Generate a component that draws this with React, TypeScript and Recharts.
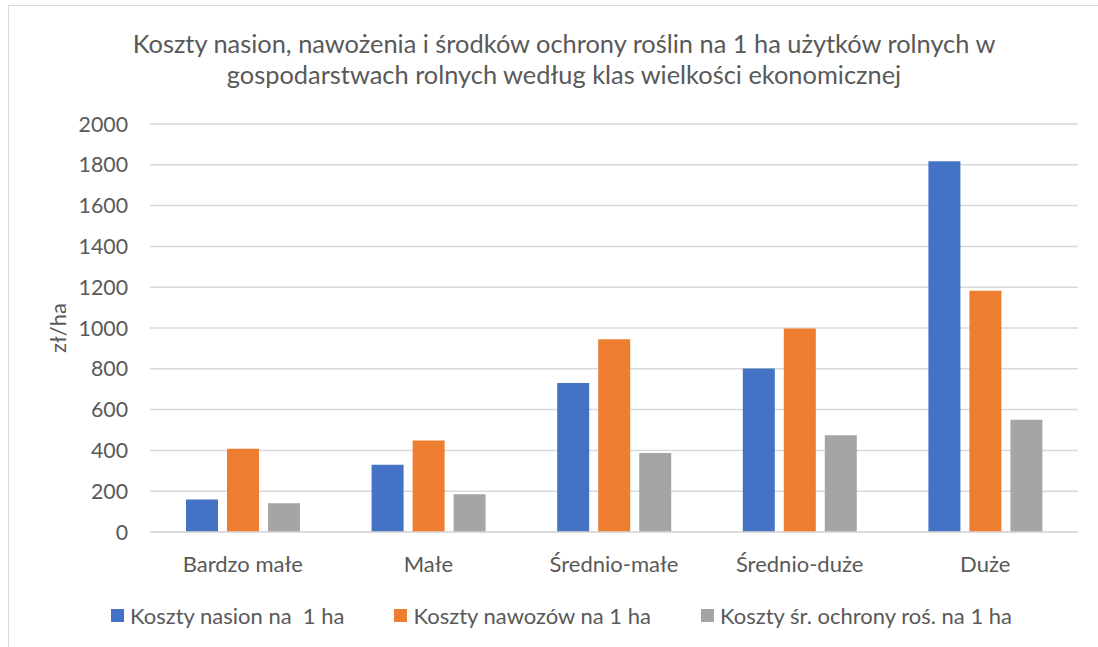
import {
  BarChart,
  Bar,
  XAxis,
  YAxis,
  CartesianGrid,
  Legend,
} from "recharts";

const categories = ["Bardzo małe", "Małe", "Średnio-małe", "Średnio-duże", "Duże"];
const seeds = [159, 330, 730, 802, 1817];
const fertilizers = [408, 448, 945, 998, 1183];
const protection = [141, 185, 387, 474, 550];
const yTicks = [0, 200, 400, 600, 800, 1000, 1200, 1400, 1600, 1800, 2000];

const series = [
  { key: "seeds", name: "Koszty nasion na  1 ha", color: "#4472C4", values: seeds },
  { key: "fert", name: "Koszty nawozów na 1 ha", color: "#ED7D31", values: fertilizers },
  { key: "prot", name: "Koszty śr. ochrony roś. na 1 ha", color: "#A5A5A5", values: protection },
];

const data = categories.map((c, i) => ({
  category: c,
  seeds: seeds[i],
  fert: fertilizers[i],
  prot: protection[i],
}));

const FONT = "Lato, 'Open Sans', sans-serif";
const TEXT = "#595959";
const LEGEND_H = 30;

// legend row: small square + label, spaced like the office chart
function LegendRow({ payload }: any) {
  return (
    <div
      style={{
        display: "flex",
        alignItems: "center",
        height: LEGEND_H,
        paddingLeft: 111,
        fontFamily: FONT,
      }}
    >
      {(payload || []).map((p: any, i: number) => (
        <div key={i} style={{ display: "flex", alignItems: "center", marginRight: 50 }}>
          <span
            style={{
              width: 13,
              height: 13,
              background: p.color,
              display: "inline-block",
              marginRight: 6,
            }}
          />
          <span style={{ fontSize: 22, color: TEXT, whiteSpace: "pre" }}>{p.value}</span>
        </div>
      ))}
    </div>
  );
}

export default function App() {
  return (
    <div
      style={{
        position: "absolute",
        left: 0,
        top: 0,
        width: 1098,
        height: 647,
        overflow: "hidden",
        background: "#fff",
      }}
    >
      {/* chart frame */}
      <div
        style={{
          position: "absolute",
          left: 8,
          top: 5,
          width: 1100,
          height: 700,
          border: "1.5px solid #d9d9d9",
          boxSizing: "border-box",
        }}
      />
      <div
        style={{
          position: "absolute",
          left: 0,
          top: 28,
          width: 1128,
          textAlign: "center",
          fontFamily: FONT,
          fontSize: 25.4,
          lineHeight: "31px",
          color: TEXT,
        }}
      >
        Koszty nasion, nawożenia i środków ochrony roślin na 1 ha użytków rolnych w
        <br />
        gospodarstwach rolnych według klas wielkości ekonomicznej
      </div>
      <div style={{ position: "absolute", left: 0, top: 0 }}>
        <BarChart
          width={1098}
          height={647}
          data={data}
          margin={{ top: 124, right: 20, bottom: 55, left: 0 }}
          barSize={32}
          barGap={9}
        >
          <CartesianGrid vertical={false} stroke="#d9d9d9" strokeWidth={1.5} />
          <XAxis
            dataKey="category"
            tickLine={false}
            axisLine={{ stroke: "#d9d9d9", strokeWidth: 1.5 }}
            tickSize={0}
            tickMargin={24}
            interval={0}
            tick={{ fill: TEXT, fontSize: 22, fontFamily: FONT }}
          />
          <YAxis
            width={150}
            domain={[0, 2000]}
            ticks={yTicks}
            interval={0}
            tickLine={false}
            axisLine={false}
            tickSize={0}
            tickMargin={22}
            tick={{ fill: TEXT, fontSize: 21.3, fontFamily: FONT }}
            label={{
              content: ({ viewBox }: any) => (
                <text
                  x={viewBox.x + 57}
                  y={viewBox.y + viewBox.height / 2}
                  transform={`rotate(-90, ${viewBox.x + 57}, ${viewBox.y + viewBox.height / 2})`}
                  textAnchor="middle"
                  dominantBaseline="central"
                  fill={TEXT}
                  fontSize={22}
                  fontFamily={FONT}
                >
                  zł/ha
                </text>
              ),
            }}
          />
          <Legend
            verticalAlign="bottom"
            align="left"
            content={<LegendRow />}
            wrapperStyle={{ left: 0, width: 1098, top: 600, height: LEGEND_H }}
          />
          {series.map((s) => (
            <Bar
              key={s.key}
              dataKey={s.key}
              name={s.name}
              fill={s.color}
              isAnimationActive={false}
            />
          ))}
        </BarChart>
      </div>
    </div>
  );
}
